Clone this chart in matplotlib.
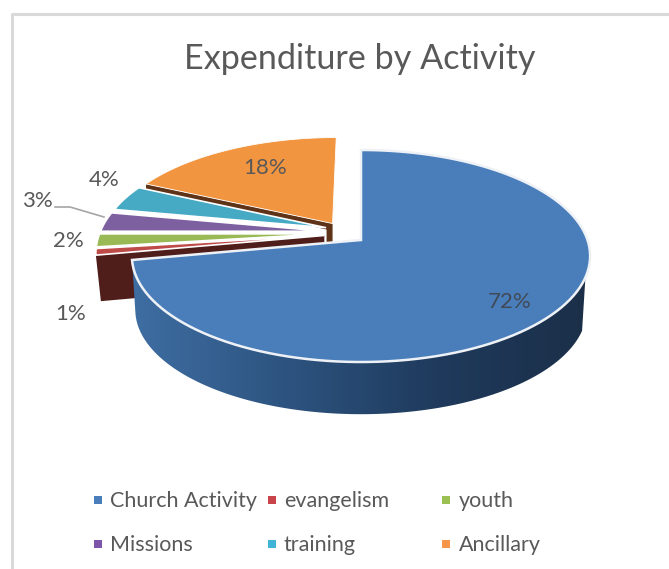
import numpy as np
import matplotlib
matplotlib.use('Agg')
import matplotlib.pyplot as plt
from matplotlib.colors import LinearSegmentedColormap

categories = ['Church Activity', 'evangelism', 'youth', 'Missions', 'training', 'Ancillary']
values = [72, 1, 2, 3, 4, 18]
explode = [0, 0.165, 0.165, 0.165, 0.165, 0.24]
lift = [0, 0.07, 0.07, 0.07, 0.07, -0.04]
colors = ['#4a7ebb', '#be4b48', '#98b954', '#7d60a0', '#46aac5', '#f29540']
legend_colors = ['#4a7ebb', '#c8444a', '#9bc053', '#7d55a8', '#3fb4d8', '#f79646']
title = 'Expenditure by Activity'

plt.rcParams['font.family'] = ['Lato', 'DejaVu Sans']
TXT = '#595959'

# pie plane -> picture (a circle seen in perspective)
CX, CY = 361, 240
RX, H, K = 226.5, 103.6, 0.151
DEPTH, SHRINK = 54, 0.985


def project(u, v):
    w = 1 + K * v
    return CX + RX * u / w, CY - H * v / w


def lower(x, y):
    return CX + (x - CX) * SHRINK, CY + (y - CY) * SHRINK + DEPTH


def slice_shift(i, start, end):
    mid = np.radians((start + end) / 2)
    return explode[i] * np.sin(mid), explode[i] * np.cos(mid) + lift[i]


def wedge(start, end, su, sv):
    t = np.radians(np.linspace(start, end, 120))
    u = np.r_[su, su + np.sin(t), su]
    v = np.r_[sv, sv + np.cos(t), sv]
    return project(u, v)


fig = plt.figure(figsize=(6.69, 5.69), dpi=100)
ax = fig.add_axes([0, 0, 1, 1])
ax.axis('off')

# frame
ax.plot([12, 12, 669], [569, 14, 14], color='#d9d9d9', lw=2.2)

edges = np.r_[0, np.cumsum(values)] * 3.6
starts, ends = edges[:-1], edges[1:]

# thin dark strip under the orange slice
i = 5
su, sv = slice_shift(i, starts[i], ends[i])
ax_tip = project(su + np.sin(np.radians(starts[i])), sv + np.cos(np.radians(starts[i])))
ax_apex = project(su, sv)
ax.fill([ax_tip[0], ax_apex[0], ax_apex[0], ax_apex[0] - 6, ax_apex[0] - 6, ax_tip[0]],
        [ax_tip[1], ax_apex[1], ax_apex[1] + 19, ax_apex[1] + 19, ax_apex[1] + 6, ax_tip[1] + 5],
        color='#5f3317', lw=0)
x, y = wedge(starts[i], ends[i], su, sv)
ax.fill(x, y, facecolor=colors[i], edgecolor='white', lw=0.6)

# the small slices, back to front
for i in [4, 3, 2]:
    su, sv = slice_shift(i, starts[i], ends[i])
    x, y = wedge(starts[i], ends[i], su, sv)
    ax.fill(x, y, facecolor=colors[i], edgecolor='white', lw=1.2)

# dark wall under the red slice
i = 1
su, sv = slice_shift(i, starts[i], ends[i])
t = np.radians(starts[i])
tip = project(su + np.sin(t), sv + np.cos(t))
apex = project(su, sv)
tip_low = (tip[0] + 5, tip[1] + 46)
ax.fill([tip[0], apex[0], apex[0], tip_low[0]],
        [tip[1], apex[1], apex[1] + 46, tip_low[1]], color='#4f1e1a', lw=0)
x, y = wedge(starts[i], ends[i], su, sv)
ax.fill(x, y, facecolor=colors[i], edgecolor='white', lw=1.2)

# blue wall with a dark gradient
t = np.radians(np.linspace(110, ends[0], 200))
rx, ry = project(np.sin(t), np.cos(t))
lx, ly = lower(rx, ry)
wall = ax.fill(np.r_[rx, lx[::-1]], np.r_[ry, ly[::-1]], color='none', lw=0)[0]
shade = LinearSegmentedColormap.from_list('shade', ['#1b2f48', '#1f3a5c', '#2d5480', '#3f6ea3'])
grad = ax.imshow(np.linspace(0, 1, 256)[::-1].reshape(1, -1), extent=[130, 592, 420, 250],
                 cmap=shade, aspect='auto', zorder=1.5)
grad.set_clip_path(wall)

# blue top
x, y = wedge(starts[0], ends[0], 0, 0)
ax.fill(x, y, facecolor=colors[0], edgecolor='#eef2f7', lw=1.8, zorder=2)

# data labels
labels = [('72%', 510, 302), ('1%', 71, 314), ('2%', 68, 241), ('3%', 37, 201),
          ('4%', 104, 180), ('18%', 265, 168)]
for s, lx_, ly_ in labels:
    ax.text(lx_, ly_, s, fontsize=16, color=TXT if s != '72%' else '#404a57',
            ha='center', va='center', zorder=3)
ax.plot([55, 70, 104], [207, 207, 217], color='#a6a6a6', lw=1.2, zorder=3)

# title
ax.text(360, 59, title, fontsize=24.6, color=TXT, ha='center', va='center', zorder=3)

# legend
sq_x = [98, 272, 446]
tx_x = [110, 284, 459]
rows = [500, 544]
for n, name in enumerate(categories):
    r, c = divmod(n, 3)
    ax.scatter(sq_x[c], rows[r], marker='s', s=28, color=legend_colors[n], lw=0, zorder=3)
    ax.text(tx_x[c], rows[r] + 1, name, fontsize=15.5, color=TXT, ha='left', va='center', zorder=3)

ax.set_xlim(0, 669)
ax.set_ylim(569, 0)
fig.savefig('out.png', dpi=100)
